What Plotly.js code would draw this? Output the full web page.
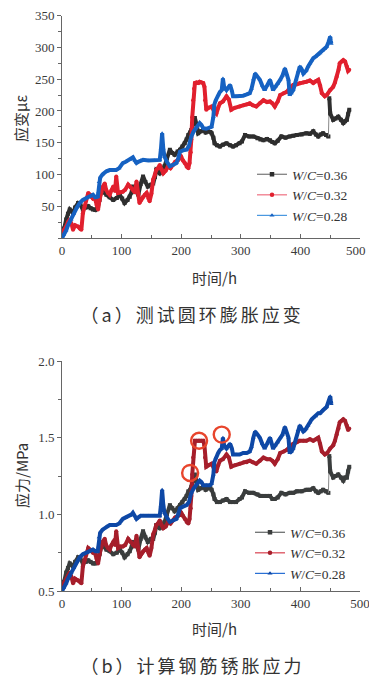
<!DOCTYPE html>
<html><head><meta charset="utf-8">
<script src="https://cdn.plot.ly/plotly-3.0.1.min.js"></script>
<style>html,body{margin:0;padding:0;background:#fff;}#chart{width:369px;height:679px;}</style>
</head><body><div id="chart"></div>
<script>
// ---- data ----
const legendNames = ['<i>W</i>/<i>C</i>=0.36', '<i>W</i>/<i>C</i>=0.32', '<i>W</i>/<i>C</i>=0.28'];
const xTickVals = [0, 100, 200, 300, 400, 500];

const blackH = [0,3,7,10,13,16,18.5,22,27,31,
  35,40,44,48,52,56,60.5,63,66,70,
  74.5,80,86,92,97,101,105,110,113.7,117,
  119,124,128,132,136,140,144,149,153,156,
  158,161,164,168,172,176,181,185,189,194,
  198,202,206,209,212,215,217,220,223,226,
  228.5,233,237,241,245,249,251,254,256,260,
  265,270,276,282,287,292,298,302,307,314,
  321,328,333,338,344,349,353,357,362,368,
  375,382,388,394,402,410,416,421.6,426,430,
  434,438,443,447,448.5,450,455,459,463.5,468,
  472,475,478,480,482];
const blackStrain = [0,15,29,38,45,42,39,48,55,52,
  45,48,50,47,45,44,50,60,76,72,
  68,64,60,63,68,62,55,60,65,72,
  81,74,68,85,97,88,81,84,86,96,
  107,105,102,108,113,125,139,134,131,136,
  139,144,149,155,162,166,170,180,189,178,
  165,168,170,166,168,167,165,158,149,146,
  144,147,149,146,144,146,149,152,162,160,
  160,157,155,154,156,154,151,149,153,160,
  158,160,161,162,163,165,164,168,163,160,
  163,165,162,160,220,196,186,188,191,186,
  181,184,186,195,202];
const blackStress = [0.50,0.56,0.62,0.65,0.68,0.67,0.66,0.69,0.72,0.71,
  0.68,0.69,0.70,0.69,0.68,0.68,0.70,0.74,0.80,0.79,
  0.77,0.76,0.74,0.75,0.77,0.75,0.72,0.74,0.76,0.79,
  0.82,0.80,0.77,0.84,0.89,0.85,0.82,0.84,0.84,0.88,
  0.93,0.92,0.91,0.93,0.95,1.00,1.06,1.04,1.02,1.04,
  1.06,1.08,1.10,1.12,1.15,1.16,1.18,1.22,1.26,1.21,
  1.16,1.17,1.18,1.16,1.17,1.17,1.16,1.13,1.10,1.08,
  1.08,1.09,1.10,1.08,1.08,1.08,1.10,1.11,1.15,1.14,
  1.14,1.13,1.12,1.12,1.12,1.12,1.10,1.10,1.11,1.14,
  1.13,1.14,1.14,1.15,1.15,1.16,1.16,1.17,1.15,1.14,
  1.15,1.16,1.15,1.14,1.38,1.28,1.24,1.25,1.26,1.24,
  1.22,1.24,1.24,1.28,1.31];

const redH = [0,3,7,10,13,16,18.5,22,27,30,
  32.5,35,38,41,44,47,49,52,55,58,
  60.5,63,66,68,71.7,74,77,80,83,86,
  89,91,94,98,102,106,111,115,119,122,
  125,128,130,133,136,139,142,145,147,150,
  153,156,158,161,164,167,170,174,178,182,
  186,190,195,198,200,203,206,209,212,214,
  216,217,218.5,220,221.5,223,226,229,231,234,
  237,239,240,242,246,251,255,259,262,265,
  270,276,280,284,290,298,305,310,315,320,
  326,332,338,344,349,353,357,362,366,372,
  377,382,388,394,399,405,410,416,421.6,426,
  430,433,436,441,445,450,455,458,461,464,
  466,469,472,475,478,480,482];
const redStrain = [8,12,18,25,29,22,13,20,18,15,
  13,39,50,62,71,68,65,62,63,52,
  45,60,72,80,86,76,71,68,75,81,
  74,97,71,72,73,76,84,80,76,72,
  89,70,55,60,65,68,71,62,58,70,
  92,100,107,110,115,108,102,106,113,110,
  115,120,123,126,128,122,118,112,110,118,
  135,155,190,217,235,244,245,244,246,245,
  244,238,217,202,205,207,200,196,205,212,
  215,223,218,202,205,207,209,210,212,209,
  207,212,217,214,215,212,207,215,225,228,
  230,236,241,242,244,245,246,248,244,247,
  249,240,228,223,226,233,238,245,254,265,
  275,278,280,278,270,263,265];
const redStress = [0.53,0.55,0.57,0.60,0.62,0.59,0.55,0.58,0.57,0.56,
  0.55,0.66,0.70,0.75,0.78,0.77,0.76,0.75,0.75,0.71,
  0.68,0.74,0.79,0.82,0.84,0.80,0.78,0.77,0.80,0.82,
  0.80,0.89,0.78,0.79,0.79,0.80,0.84,0.82,0.80,0.79,
  0.86,0.78,0.72,0.74,0.76,0.77,0.78,0.75,0.73,0.78,
  0.87,0.90,0.93,0.94,0.96,0.93,0.91,0.92,0.95,0.94,
  0.96,0.98,0.99,1.00,1.01,0.99,0.97,0.95,0.94,0.97,
  1.04,1.12,1.26,1.37,1.44,1.48,1.48,1.48,1.48,1.48,
  1.48,1.45,1.37,1.31,1.32,1.33,1.30,1.28,1.32,1.35,
  1.36,1.39,1.37,1.31,1.32,1.33,1.34,1.34,1.35,1.34,
  1.33,1.35,1.37,1.36,1.36,1.35,1.33,1.36,1.40,1.41,
  1.42,1.44,1.46,1.47,1.48,1.48,1.48,1.49,1.48,1.49,
  1.50,1.46,1.41,1.39,1.40,1.43,1.45,1.48,1.52,1.56,
  1.60,1.61,1.62,1.61,1.58,1.55,1.56];

const blueH = [0,3,7,10,13,15.7,20,25,29.7,35,
  41,46,52,56,60,61,62,64,68,74.5,
  80,86,91,96,102,107,113.7,117,119,122,
  125,128,132,136,145,155,164,166,168,170,
  172,176,181,186,192,195,198,203,209,213,
  217,221,226,231,234,237,242,248,251,254,
  255.5,258,262,265,268,270,272,276,279,282,
  285,287,292,298,304,310,315,318,321,324,
  328,332,336,340,344,349,352,354,358,362,
  366,370,374,377,380,382,385,388,393,396,
  399,402,405,408,410,413,416,419,421.6,426,
  430,433,437,441,444,447,450,451,452];
const blueStrain = [0,5,12,20,26,29,38,48,55,60,
  63,65,68,64,65,72,88,95,100,105,
  107,107,107,110,118,120,123,125,127,122,
  118,120,122,123,122,122,123,140,165,140,
  128,120,113,115,118,125,136,138,139,145,
  160,168,175,181,178,173,172,173,175,191,
  210,217,225,230,233,251,238,233,237,241,
  232,223,223,223,224,226,228,235,250,259,
  254,249,240,233,240,249,240,233,238,243,
  249,256,267,258,249,225,228,233,250,262,
  270,266,259,262,264,270,275,280,283,286,
  289,291,295,298,301,308,317,310,306];
const blueStress = [0.50,0.52,0.55,0.58,0.60,0.62,0.65,0.69,0.72,0.74,
  0.75,0.76,0.77,0.76,0.76,0.79,0.85,0.88,0.90,0.92,
  0.93,0.93,0.93,0.94,0.97,0.98,0.99,1.00,1.01,0.99,
  0.97,0.98,0.99,0.99,0.99,0.99,0.99,1.06,1.16,1.06,
  1.01,0.98,0.95,0.96,0.97,1.00,1.04,1.05,1.06,1.08,
  1.14,1.17,1.20,1.22,1.21,1.19,1.19,1.19,1.20,1.26,
  1.34,1.37,1.40,1.42,1.43,1.50,1.45,1.43,1.45,1.46,
  1.43,1.39,1.39,1.39,1.40,1.40,1.41,1.44,1.50,1.54,
  1.52,1.50,1.46,1.43,1.46,1.50,1.46,1.43,1.45,1.47,
  1.50,1.52,1.57,1.53,1.50,1.40,1.41,1.43,1.50,1.55,
  1.58,1.56,1.54,1.55,1.56,1.58,1.60,1.62,1.63,1.64,
  1.66,1.66,1.68,1.69,1.70,1.73,1.77,1.74,1.72];

// highlighted points on the stress chart (red circles)
const circleH = [215, 230, 268];
const circleStress = [1.27, 1.48, 1.52];

// ---- styling ----
const serif = 'Liberation Serif, Times New Roman, serif';
const cjk = 'Noto Sans CJK SC, sans-serif';
const W = 369, H = 679;
const px = v => v / W;
const py = v => 1 - v / H;

const topCol = {black: '#2e2e2e', red: '#e1202e', blue: '#1662c2'};
const topLeg = {black: '#777777', red: '#ef6f80', blue: '#4a98e0'};
const botCol = {black: '#3a3d3d', red: '#a61e2b', blue: '#0e48a6'};
const botLeg = {black: '#606464', red: '#d8404e', blue: '#2a70d4'};

function splitJump(h, v, thr) {
  let j = 1;
  for (let i = 1; i < h.length; i++) { if (v[i] - v[i-1] > thr) { j = i; break; } }
  return j;
}

function seriesTraces(xa, ya, legendId, cols, legCols, sets, thr) {
  const out = [];
  const syms = ['square', 'circle', 'triangle-up'];
  const keys = ['black', 'red', 'blue'];
  sets.forEach((s, k) => {
    const key = keys[k];
    const base = {type: 'scatter', mode: 'lines+markers', xaxis: xa, yaxis: ya, showlegend: false,
      line: {color: cols[key], width: 4}, marker: {symbol: syms[k], size: 4, color: cols[key]},
      hoverinfo: 'skip'};
    if (k === 0) {
      const j = splitJump(s.h, s.v, thr);
      out.push(Object.assign({}, base, {x: s.h.slice(0, j), y: s.v.slice(0, j)}));
      out.push({type: 'scatter', mode: 'lines', xaxis: xa, yaxis: ya, showlegend: false,
        x: [s.h[j-1], s.h[j]], y: [s.v[j-1], s.v[j]], line: {color: '#888', width: 1}, hoverinfo: 'skip'});
      out.push(Object.assign({}, base, {x: s.h.slice(j), y: s.v.slice(j)}));
    } else {
      out.push(Object.assign({}, base, {x: s.h, y: s.v}));
    }
  });
  sets.forEach((s, k) => {
    const key = keys[k];
    out.push({type: 'scatter', mode: 'lines+markers', xaxis: xa, yaxis: ya, legend: legendId,
      x: [null], y: [null], name: legendNames[k],
      line: {color: legCols[key], width: 1.2}, marker: {symbol: syms[k], size: 4.5, color: cols[key]}});
  });
  return out;
}

const traces = [].concat(
  seriesTraces('x', 'y', 'legend', topCol, topLeg, [
    {h: blackH, v: blackStrain}, {h: redH, v: redStrain}, {h: blueH, v: blueStrain}], 40),
  seriesTraces('x2', 'y2', 'legend2', botCol, botLeg, [
    {h: blackH, v: blackStress}, {h: redH, v: redStress}, {h: blueH, v: blueStress}], 0.15)
);

function tickFont() { return {family: serif, size: 13, color: '#3a3a3a'}; }
function xAxis(anchor, ticktext) {
  return {domain: [px(62), px(360)], anchor: anchor, range: [0, 500],
    tickvals: xTickVals.slice(), ticktext: ticktext, ticklabeloverflow: 'allow',
    showline: true, linecolor: '#666', linewidth: 1,
    ticks: 'inside', ticklen: 4, tickcolor: '#666', tickfont: tickFont(), showgrid: false, zeroline: false,
    minor: {dtick: 50, tick0: 0, ticks: 'inside', ticklen: 3, tickcolor: '#666', showgrid: false}, fixedrange: true};
}
function yAxis(extra) {
  return Object.assign({showline: true, linecolor: '#666', linewidth: 1, ticks: 'outside', ticklen: 4, tickcolor: '#666',
    tickfont: tickFont(), showgrid: false, zeroline: false, fixedrange: true}, extra);
}

// top axis: the last label ("500") is set as a right-anchored note so it stays inside the page
const topTickText = xTickVals.map(v => v === 500 ? '' : String(v));

const layout = {
  width: W, height: H, margin: {l: 0, r: 0, t: 0, b: 0}, paper_bgcolor: '#fff', plot_bgcolor: 'rgba(0,0,0,0)',
  xaxis: xAxis('y', topTickText),
  yaxis: yAxis({domain: [py(238), py(15.7)], anchor: 'x', range: [0, 350],
    tickvals: [50, 100, 150, 200, 250, 300, 350], minor: {dtick: 25, tick0: 0, ticks: 'outside', ticklen: 3, tickcolor: '#666'}}),
  xaxis2: xAxis('y2', xTickVals.map(String)),
  yaxis2: yAxis({domain: [py(591), py(361)], anchor: 'x2', range: [0.5, 2.0],
    dtick: 0.5, tick0: 0.5, tickformat: '.1f', minor: {dtick: 0.25, tick0: 0.5, ticks: 'outside', ticklen: 3, tickcolor: '#666'}}),
  legend: {x: px(252), y: py(159), xanchor: 'left', yanchor: 'top', bgcolor: 'rgba(0,0,0,0)',
    font: {family: serif, size: 13.5, color: '#333'}, tracegroupgap: 0, itemwidth: 30},
  legend2: {x: px(250), y: py(517), xanchor: 'left', yanchor: 'top', bgcolor: 'rgba(0,0,0,0)',
    font: {family: serif, size: 13.5, color: '#333'}, tracegroupgap: 0, itemwidth: 30},
  shapes: circleH.map((h, i) => ({type: 'circle', xref: 'x2', yref: 'y2', xsizemode: 'pixel', ysizemode: 'pixel',
    xanchor: h, yanchor: circleStress[i], x0: -8, x1: 8, y0: -8, y1: 8,
    line: {color: '#e8452c', width: 2.4}, fillcolor: 'rgba(0,0,0,0)'})),
  annotations: [
    {text: String(xTickVals[5]), x: px(367.5), y: py(250), xanchor: 'right', font: tickFont()},
    {text: '应变με', x: px(20), y: py(119), textangle: -90, font: {family: cjk, size: 15, color: '#333'}},
    {text: '时间/h', x: px(215), y: py(277), font: {family: cjk, size: 15, color: '#333'}},
    {text: '（a）测试圆环膨胀应变', x: px(192), y: py(314), font: {family: cjk, size: 18, color: '#333'}},
    {text: '应力/MPa', x: px(22), y: py(476), textangle: -90, font: {family: cjk, size: 15, color: '#333'}},
    {text: '时间/h', x: px(215), y: py(628), font: {family: cjk, size: 15, color: '#333'}},
    {text: '（b）计算钢筋锈胀应力', x: px(192), y: py(665), font: {family: cjk, size: 18, color: '#333'}}
  ].map(a => Object.assign({xref: 'paper', yref: 'paper', showarrow: false, xanchor: 'center', yanchor: 'middle'}, a))
};

Plotly.newPlot('chart', traces, layout, {staticPlot: true, displayModeBar: false}).then(gd => {
  // widen caption letter spacing like the printed captions
  gd.querySelectorAll('.annotation-text').forEach(t => {
    if (t.textContent.indexOf('（') === 0) t.style.letterSpacing = '3px';
  });
});
</script>
</body></html>
